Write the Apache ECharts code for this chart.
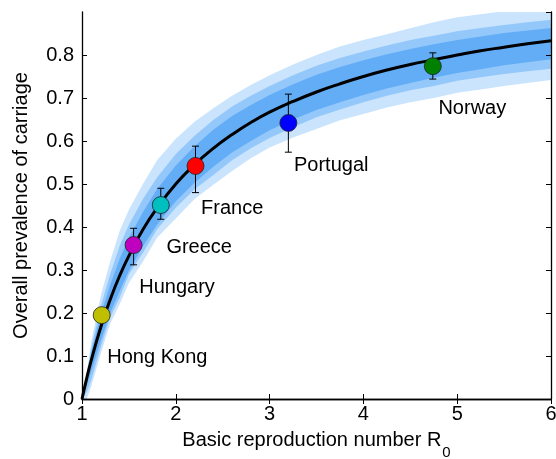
<!DOCTYPE html>
<html>
<head>
<meta charset="utf-8">
<script src="https://cdn.jsdelivr.net/npm/echarts@6/dist/echarts.min.js"></script>
<style>
  html, body { margin: 0; background: #fff; }
  #chart { width: 556px; height: 459px; }
</style>
</head>
<body>
<div id="chart"></div>
<script>
// R0 values the curve and bands are sampled at
var r0Grid     = [1, 1.05, 1.1, 1.2, 1.3, 1.4, 1.5, 1.65, 1.8, 2, 2.2, 2.4, 2.6, 2.8, 3, 3.25, 3.5, 3.75, 4, 4.25, 4.5, 4.75, 5, 5.25, 5.5, 5.75, 6];
// fitted prevalence curve
var prevCurve  = [0, 0.048, 0.091, 0.167, 0.231, 0.286, 0.333, 0.394, 0.444, 0.5, 0.545, 0.583, 0.615, 0.643, 0.667, 0.692, 0.714, 0.733, 0.75, 0.765, 0.778, 0.789, 0.8, 0.81, 0.818, 0.826, 0.833];
// uncertainty bands, outer / middle / inner
var outerLow   = [0, 0.0, 0.03, 0.105, 0.175, 0.22, 0.27, 0.32, 0.375, 0.42, 0.465, 0.498, 0.53, 0.56, 0.585, 0.608, 0.628, 0.648, 0.663, 0.678, 0.69, 0.70, 0.712, 0.72, 0.728, 0.735, 0.742];
var outerHigh  = [0, 0.06, 0.135, 0.24, 0.32, 0.39, 0.44, 0.50, 0.555, 0.605, 0.645, 0.676, 0.705, 0.73, 0.753, 0.778, 0.80, 0.82, 0.835, 0.848, 0.862, 0.876, 0.888, 0.895, 0.902, 0.91, 0.918];
var midLow     = [0, 0.015, 0.045, 0.12, 0.19, 0.235, 0.29, 0.34, 0.395, 0.445, 0.488, 0.521, 0.555, 0.583, 0.607, 0.632, 0.655, 0.673, 0.69, 0.705, 0.718, 0.728, 0.74, 0.748, 0.756, 0.762, 0.768];
var midHigh    = [0, 0.055, 0.12, 0.215, 0.29, 0.355, 0.405, 0.465, 0.515, 0.57, 0.612, 0.649, 0.68, 0.705, 0.728, 0.753, 0.775, 0.793, 0.808, 0.822, 0.835, 0.845, 0.855, 0.863, 0.87, 0.876, 0.882];
var innerLow   = [0, 0.03, 0.065, 0.135, 0.2, 0.25, 0.298, 0.355, 0.405, 0.46, 0.503, 0.54, 0.573, 0.6, 0.625, 0.65, 0.672, 0.69, 0.707, 0.722, 0.735, 0.747, 0.758, 0.767, 0.776, 0.783, 0.79];
var innerHigh  = [0, 0.05, 0.11, 0.195, 0.265, 0.325, 0.375, 0.435, 0.488, 0.543, 0.588, 0.626, 0.658, 0.684, 0.707, 0.732, 0.754, 0.772, 0.788, 0.802, 0.814, 0.825, 0.835, 0.843, 0.851, 0.857, 0.863];

// observed countries
var countries   = ['Hong Kong', 'Hungary', 'Greece', 'France', 'Portugal', 'Norway'];
var countryR0   = [1.21, 1.55, 1.84, 2.21, 3.20, 4.74];
var countryPrev = [0.195, 0.358, 0.451, 0.542, 0.642, 0.774];
var errLow      = [null, 0.312, 0.418, 0.480, 0.574, 0.744];
var errHigh     = [null, 0.397, 0.490, 0.588, 0.709, 0.805];
var countryColors = ['#bfbf00', '#bf00bf', '#00bfbf', '#ff0000', '#0000ff', '#008000'];

var lightBlue = '#c9e4fc', midBlue = '#94c8fa', darkBlue = '#63adf7';
var font = 'Liberation Sans, Arial, Helvetica, sans-serif';
var fs = 20;

function pairs(ys) {
    return r0Grid.map(function (x, i) { return [x, ys[i]]; });
}
// each band edge is filled down to the x axis, painted top to bottom
function layer(name, ys, color) {
    return {
        name: name,
        type: 'line',
        data: pairs(ys),
        symbol: 'none',
        silent: true,
        lineStyle: { width: 0 },
        areaStyle: { color: color, opacity: 1 },
        z: 2
    };
}

var dom = document.getElementById('chart');
var myChart = echarts.init(dom);

var tickStyle = { inside: true, length: 5, lineStyle: { color: '#000', width: 1 } };
var lineStyle = { color: '#000', width: 1.3 };

var option = {
    animation: false,
    grid: { left: 82, right: 5, top: 12, bottom: 60, containLabel: false, outerBoundsMode: 'none' },
    xAxis: [
        {
            type: 'value', min: 1, max: 6, interval: 1,
            name: '{a|Basic reproduction number R}{sub|0}',
            nameLocation: 'middle', nameGap: 22,
            nameTextStyle: {
                rich: {
                    a: { fontFamily: font, fontSize: fs, color: '#000' },
                    sub: { fontFamily: font, fontSize: 15, color: '#000', padding: [24, 0, 0, 1] }
                }
            },
            splitLine: { show: false },
            axisLine: { lineStyle: lineStyle },
            axisTick: tickStyle,
            axisLabel: { fontFamily: font, fontSize: fs, color: '#000', margin: 5 },
            z: 5
        },
        {
            type: 'value', position: 'top', min: 1, max: 6, interval: 1,
            splitLine: { show: false },
            axisLine: { lineStyle: lineStyle },
            axisTick: tickStyle,
            axisLabel: { show: false },
            z: 5
        }
    ],
    yAxis: [
        {
            type: 'value', min: 0, max: 0.9, interval: 0.1,
            name: 'Overall prevalence of carriage',
            nameLocation: 'middle', nameGap: 51,
            nameTextStyle: { fontFamily: font, fontSize: fs, color: '#000' },
            splitLine: { show: false },
            axisLine: { show: true, lineStyle: lineStyle },
            axisTick: Object.assign({ show: true }, tickStyle),
            axisLabel: { fontFamily: font, fontSize: fs, color: '#000', margin: 8, showMaxLabel: false },
            z: 5
        },
        {
            type: 'value', position: 'right', min: 0, max: 0.9, interval: 0.1,
            splitLine: { show: false },
            axisLine: { show: true, lineStyle: lineStyle },
            axisTick: Object.assign({ show: true }, tickStyle),
            axisLabel: { show: false },
            z: 5
        }
    ],
    series: [
        layer('outer high', outerHigh, lightBlue),
        layer('mid high', midHigh, midBlue),
        layer('inner high', innerHigh, darkBlue),
        layer('inner low', innerLow, midBlue),
        layer('mid low', midLow, lightBlue),
        layer('outer low', outerLow, '#ffffff'),
        {
            name: 'curve',
            type: 'line',
            data: pairs(prevCurve),
            smooth: true,
            symbol: 'none',
            lineStyle: { color: '#000', width: 3 },
            z: 4
        },
        {
            name: 'error',
            type: 'custom',
            data: countryR0.map(function (x, i) { return [x, errLow[i], errHigh[i]]; })
                .filter(function (d) { return d[1] != null; }),
            encode: { x: 0, y: [1, 2] },
            renderItem: function (params, api) {
                var lo = api.coord([api.value(0), api.value(1)]);
                var hi = api.coord([api.value(0), api.value(2)]);
                var w = 3.5;
                var st = { stroke: '#000', lineWidth: 1 };
                return {
                    type: 'group',
                    children: [
                        { type: 'line', shape: { x1: lo[0], y1: lo[1], x2: hi[0], y2: hi[1] }, style: st },
                        { type: 'line', shape: { x1: lo[0] - w, y1: lo[1], x2: lo[0] + w, y2: lo[1] }, style: st },
                        { type: 'line', shape: { x1: hi[0] - w, y1: hi[1], x2: hi[0] + w, y2: hi[1] }, style: st }
                    ]
                };
            },
            z: 5
        },
        {
            name: 'countries',
            type: 'scatter',
            symbolSize: 17,
            data: countries.map(function (c, i) {
                return {
                    name: c,
                    value: [countryR0[i], countryPrev[i]],
                    itemStyle: { color: countryColors[i] }
                };
            }),
            itemStyle: { borderColor: '#222', borderWidth: 0.8, opacity: 1 },
            label: {
                show: true,
                formatter: '{b}',
                position: [14.5, 51.5],
                align: 'left',
                verticalAlign: 'middle',
                fontFamily: font,
                fontSize: fs,
                color: '#000'
            },
            z: 6
        }
    ]
};

if (option && typeof option === 'object') {
    myChart.setOption(option);
}
</script>
</body>
</html>
